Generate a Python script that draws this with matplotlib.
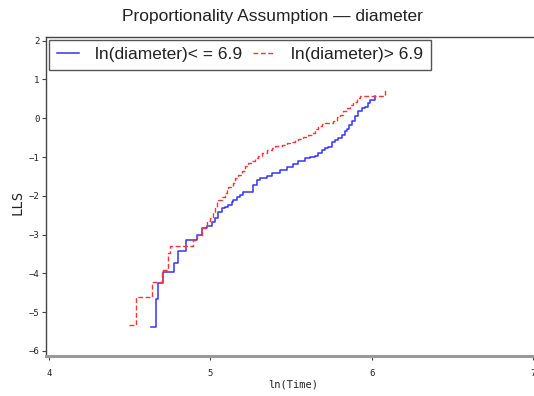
import matplotlib.pyplot as plt

# ln(time) at each event and the log(-log S) estimate after it
small_time = [4.630, 4.663, 4.677, 4.704, 4.776, 4.797, 4.848, 4.918, 4.946, 4.977,
              5.007, 5.028, 5.048, 5.069, 5.090, 5.110, 5.131, 5.141, 5.162, 5.183,
              5.203, 5.265, 5.286, 5.307, 5.348, 5.379, 5.430, 5.472, 5.513, 5.544,
              5.585, 5.616, 5.647, 5.668, 5.689, 5.709, 5.729, 5.750, 5.771, 5.791,
              5.812, 5.833, 5.847, 5.859, 5.874, 5.895, 5.915, 5.936, 5.957, 5.977,
              5.988, 6.019]
small_lls = [-5.37, -4.67, -4.25, -3.97, -3.72, -3.41, -3.15, -3.02, -2.83, -2.79,
             -2.68, -2.58, -2.41, -2.32, -2.28, -2.23, -2.15, -2.10, -2.02, -1.97,
             -1.89, -1.72, -1.59, -1.54, -1.50, -1.41, -1.33, -1.26, -1.17, -1.10,
             -1.03, -0.99, -0.97, -0.90, -0.81, -0.77, -0.73, -0.60, -0.55, -0.51,
             -0.43, -0.34, -0.28, -0.17, -0.08, 0.05, 0.18, 0.26, 0.30, 0.39,
             0.48, 0.58]

large_time = [4.495, 4.539, 4.636, 4.702, 4.735, 4.749, 4.894, 4.915, 4.946, 4.980,
              4.997, 5.017, 5.028, 5.038, 5.048, 5.069, 5.090, 5.100, 5.110, 5.141,
              5.152, 5.172, 5.193, 5.214, 5.234, 5.255, 5.276, 5.296, 5.317, 5.348,
              5.379, 5.399, 5.441, 5.472, 5.492, 5.523, 5.544, 5.575, 5.606, 5.627,
              5.647, 5.668, 5.689, 5.709, 5.760, 5.781, 5.802, 5.822, 5.843, 5.864,
              5.884, 5.905, 5.926, 6.080]
large_lls = [-5.34, -4.62, -4.21, -3.91, -3.48, -3.29, -3.14, -3.01, -2.83, -2.66,
             -2.58, -2.41, -2.28, -2.15, -2.10, -2.02, -1.93, -1.85, -1.76, -1.67,
             -1.54, -1.46, -1.37, -1.24, -1.16, -1.09, -1.03, -0.97, -0.90, -0.81,
             -0.77, -0.71, -0.68, -0.64, -0.60, -0.57, -0.54, -0.49, -0.43, -0.37,
             -0.28, -0.19, -0.14, -0.11, -0.08, 0.03, 0.09, 0.18, 0.26, 0.35,
             0.43, 0.52, 0.58, 0.74]

small_label = 'ln(diameter)< = 6.9'
large_label = 'ln(diameter)> 6.9'
x_ticks = [4, 5, 6, 7]
y_ticks = [-6, -5, -4, -3, -2, -1, 0, 1, 2]

plt.rcParams['font.family'] = ['Liberation Sans', 'DejaVu Sans']
mono = ['DejaVu Sans Mono', 'DejaVu Sans']

fig = plt.figure(figsize=(5.34, 3.96), dpi=100)
ax = fig.add_axes([0.086, 0.101, 0.925, 0.806])

ax.step(small_time, small_lls, where='post', color='#3333ff', lw=1.1,
        label=small_label)
ax.step(large_time, large_lls, where='post', color='#ff3333', lw=1.0,
        dashes=(3.5, 1.8), label=large_label)

ax.set_xlim(3.981, 7.04)
ax.set_ylim(-6.13, 2.10)
ax.set_xticks(x_ticks)
ax.set_yticks(y_ticks)

ax.spines['right'].set_visible(False)
ax.spines['left'].set_color('#444444')
ax.spines['top'].set_color('#444444')
ax.spines['left'].set_linewidth(1.0)
ax.spines['top'].set_linewidth(1.0)
ax.spines['bottom'].set_color('#9a9a9a')
ax.spines['bottom'].set_linewidth(2.2)

ax.tick_params(axis='both', length=3, width=0.8, color='#444444',
               labelsize=6.5, labelcolor='#222222')
ax.tick_params(axis='x', pad=6)
ax.tick_params(axis='y', pad=1.5)
for lab in ax.get_xticklabels() + ax.get_yticklabels():
    lab.set_family(mono)

ax.set_xlabel('ln(Time)', fontsize=7.5, family=mono, color='#222222')
ax.set_ylabel('LLS', fontsize=10, family=mono, color='#222222')
ax.xaxis.set_label_coords(0.5, -0.075)
ax.yaxis.set_label_coords(-0.0425, 0.48)

fig.text(272 / 534, 1 - 17 / 396, 'Proportionality Assumption \u2014 diameter',
         ha='center', va='center', fontsize=12.5, color='#222222')

leg = ax.legend(loc='upper left', bbox_to_anchor=(49 / 534, 1 - 39.5 / 396),
                bbox_transform=fig.transFigure, borderaxespad=0, ncol=2,
                fontsize=12.5, handlelength=1.3, handletextpad=0.9,
                columnspacing=0.6, borderpad=0.45, fancybox=False,
                framealpha=1, edgecolor='#555555')
leg.get_frame().set_linewidth(1.0)
for t in leg.get_texts():
    t.set_color('#222222')

fig.savefig('out.png', dpi=100)
